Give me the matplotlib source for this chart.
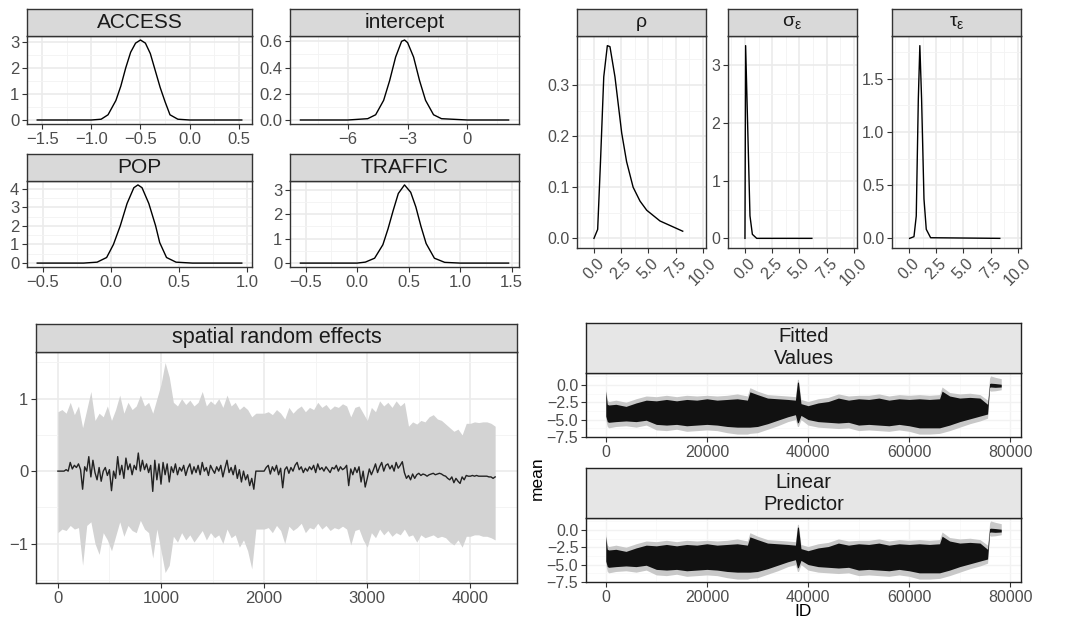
import numpy as np
import matplotlib
matplotlib.use('Agg')
import matplotlib.pyplot as plt
from matplotlib.ticker import AutoMinorLocator

plt.rcParams['font.family'] = ['Liberation Sans', 'DejaVu Sans']
plt.rcParams['mathtext.fontset'] = 'custom'
plt.rcParams['mathtext.rm'] = 'Liberation Sans'
plt.rcParams['axes.unicode_minus'] = True

# ---- fixed effect posterior densities ----
access_x = [-1.55, -1.0, -0.9, -0.83, -0.75, -0.7, -0.65, -0.6, -0.55, -0.5, -0.45, -0.4, -0.35, -0.3, -0.25, -0.2, -0.12, 0.0, 0.53]
access_y = [0.0, 0.0, 0.03, 0.2, 0.75, 1.3, 2.0, 2.6, 2.95, 3.07, 2.95, 2.55, 1.9, 1.25, 0.7, 0.2, 0.03, 0.0, 0.0]

icpt_x = [-8.37, -6.0, -5.0, -4.6, -4.2, -3.9, -3.6, -3.3, -3.15, -3.0, -2.7, -2.4, -2.1, -1.7, -1.3, 0.0, 2.06]
icpt_y = [0.0, 0.0, 0.01, 0.04, 0.15, 0.3, 0.48, 0.6, 0.61, 0.59, 0.48, 0.3, 0.15, 0.04, 0.01, 0.0, 0.0]

pop_x = [-0.54, -0.2, -0.1, -0.03, 0.02, 0.07, 0.12, 0.17, 0.2, 0.23, 0.28, 0.33, 0.36, 0.41, 0.48, 0.6, 0.963]
pop_y = [0.0, 0.0, 0.05, 0.3, 1.0, 2.0, 3.2, 4.05, 4.2, 4.05, 3.2, 2.0, 1.1, 0.3, 0.05, 0.0, 0.0]

traffic_x = [-0.55, 0.0, 0.08, 0.17, 0.25, 0.3, 0.35, 0.4, 0.46, 0.52, 0.57, 0.62, 0.67, 0.75, 0.85, 1.0, 1.47]
traffic_y = [0.0, 0.0, 0.04, 0.2, 0.75, 1.4, 2.15, 2.85, 3.2, 2.9, 2.3, 1.5, 0.8, 0.2, 0.03, 0.0, 0.0]

# ---- hyperparameter densities ----
rho_x = [0.0, 0.34, 0.6, 0.9, 1.23, 1.47, 1.93, 2.55, 3.0, 3.6, 4.23, 4.85, 6.07, 8.16]
rho_y = [0.0, 0.0175, 0.15, 0.316, 0.377, 0.375, 0.316, 0.206, 0.15, 0.10, 0.073, 0.055, 0.034, 0.014]

sig_x = [0.0, 0.06, 0.46, 0.68, 1.08, 6.15]
sig_y = [0.0, 3.34, 0.39, 0.07, 0.0, 0.0]

tau_x = [0.06, 0.46, 0.67, 0.86, 1.0, 1.16, 1.38, 1.59, 1.99, 8.35]
tau_y = [0.0, 0.016, 0.21, 1.31, 1.81, 1.31, 0.37, 0.085, 0.006, 0.0]

# ---- spatial random effects: posterior mean ----
sp_id = np.arange(0, 4241, 20)
sp_mean = [0.0, 0.0, 0.0, 0.0, 0.02, 0.0, 0.12, 0.03, 0.08, 0.05,
           0.1, 0.02, -0.25, 0.06, 0.0, 0.2, -0.08, 0.15, -0.02, -0.12,
           0.05, -0.14, 0.0, 0.05, -0.06, 0.02, -0.27, 0.0, -0.1, 0.2,
           -0.05, 0.08, -0.1, 0.18, 0.02, 0.1, -0.05, 0.08, 0.02, 0.25,
           0.0, 0.15, 0.02, 0.1, -0.02, 0.08, -0.28, 0.15, -0.12, 0.1,
           -0.18, 0.12, -0.05, 0.1, -0.15, 0.06, -0.02, 0.1, -0.05, 0.05,
           0.0, 0.08, -0.06, 0.04, 0.1, -0.04, 0.06, -0.02, 0.08, -0.05,
           0.12, 0.0, 0.05, -0.06, 0.08, 0.02, -0.03, 0.06, 0.0, 0.08,
           -0.08, 0.04, 0.15, -0.02, 0.05, -0.05, 0.08, -0.1, 0.02, -0.15,
           0.0, -0.12, -0.05, -0.2, -0.1, -0.25, 0.0, 0.0, 0.0, 0.0,
           0.0, 0.05, 0.08, -0.04, 0.06, 0.0, 0.08, -0.05, 0.04, -0.23,
           0.02, 0.06, -0.03, 0.05, 0.0, 0.08, 0.12, 0.02, 0.06, -0.02,
           0.04, 0.0, 0.06, 0.02, 0.08, -0.02, 0.1, 0.02, 0.05, 0.0,
           0.06, 0.02, -0.02, 0.05, 0.03, 0.08, 0.0, 0.06, 0.02, 0.04,
           0.08, -0.2, 0.03, -0.05, 0.05, -0.02, 0.06, -0.15, 0.0, -0.22,
           -0.1, 0.03, -0.05, 0.02, 0.1, -0.02, 0.06, 0.12, 0.0, 0.08,
           0.1, 0.03, 0.08, 0.0, 0.12, 0.04, 0.08, 0.13, -0.02, -0.1,
           -0.06, -0.12, -0.04, -0.1, -0.05, -0.03, -0.06, -0.04, -0.05, -0.07,
           -0.05, -0.04, -0.03, -0.05, -0.04, -0.03, -0.04, -0.06, -0.07, -0.1,
           -0.12, -0.08, -0.16, -0.1, -0.14, -0.17, -0.08, -0.12, -0.06, -0.07,
           -0.07, -0.06, -0.07, -0.06, -0.07, -0.07, -0.07, -0.07, -0.07, -0.08,
           -0.08, -0.1, -0.08]

# ---- spatial random effects: 95% band ----
band_id = np.arange(0, 4241, 40)
sp_upper = [0.82, 0.85, 0.8, 0.95, 0.78, 0.9, 0.6, 0.85, 1.1, 0.7, 0.8, 0.75, 0.9, 0.7, 0.85, 1.05,
            0.8, 0.95, 0.85, 0.9, 1.05, 0.9, 0.95, 0.8, 1.0, 1.2, 1.5, 1.3, 0.95, 0.9, 1.0, 0.92,
            0.98, 0.9, 0.95, 1.1, 0.9, 0.97, 0.92, 1.0, 0.88, 1.05, 0.9, 0.95, 0.85, 0.9, 0.85, 0.75,
            0.8, 0.8, 0.8, 0.82, 0.78, 0.85, 0.8, 0.72, 0.88, 0.8, 0.86, 0.9, 0.82, 0.88, 0.85, 0.95,
            0.88, 0.92, 0.85, 0.9, 0.88, 0.93, 0.9, 0.75, 0.88, 0.9, 0.8, 0.7, 0.88, 0.82, 0.97, 0.9,
            0.95, 0.88, 0.97, 0.9, 0.95, 0.62, 0.68, 0.65, 0.7, 0.68, 0.75, 0.78, 0.72, 0.7, 0.65, 0.6,
            0.55, 0.58, 0.5, 0.66, 0.66, 0.68, 0.67, 0.68, 0.68, 0.66, 0.62]
sp_lower = [-0.85, -0.8, -0.82, -0.75, -0.8, -0.78, -1.3, -0.75, -0.7, -1.0, -1.15, -0.85, -0.95, -1.1, -0.9, -0.7,
            -0.9, -0.75, -0.82, -0.85, -0.68, -0.8, -0.85, -1.2, -0.8, -1.1, -1.4, -1.3, -0.9, -0.98, -0.85, -0.95,
            -0.88, -0.98, -0.9, -0.82, -0.95, -0.85, -0.92, -0.88, -1.0, -0.8, -0.92, -0.88, -1.05, -0.95, -1.1, -1.35,
            -0.8, -0.8, -0.8, -0.78, -0.85, -0.75, -0.82, -1.0, -0.76, -0.82, -0.78, -0.72, -0.85, -0.78, -0.8, -0.72,
            -0.8, -0.75, -0.82, -0.78, -0.8, -0.76, -0.8, -1.02, -0.82, -0.8, -0.95, -1.05, -0.85, -0.92, -0.8, -0.88,
            -0.82, -0.9, -0.85, -0.88, -0.8, -0.9, -0.88, -0.98, -0.88, -0.92, -0.9, -0.88, -0.92, -0.9, -0.92, -0.98,
            -1.02, -0.95, -1.05, -0.9, -0.9, -0.88, -0.88, -0.9, -0.9, -0.92, -0.95]

# ---- fitted values / linear predictor (envelope of mean and band) ----
fit_id = [0, 300, 600, 2000, 4000, 6000, 8000, 10000, 12000, 14000, 16000, 18000, 20000, 22000, 24000, 26000,
          28000, 28500, 30000, 32000, 34000, 36000, 37500, 37900, 38100, 38600, 40000, 42000, 44000, 46000, 48000,
          50000, 52000, 54000, 56000, 58000, 60000, 62000, 64000, 66000, 66500, 68000, 70000, 72000, 74000, 75500,
          75900, 76100, 77000, 78200]
mean_hi = [-0.9, -2.8, -2.9, -2.8, -3.1, -2.6, -2.2, -2.3, -2.1, -2.3, -2.1, -2.2, -2.0, -2.2, -2.1, -2.0,
           -2.2, -1.0, -1.4, -1.9, -2.0, -2.1, -2.2, 0.4, 0.4, -2.7, -3.0, -2.6, -2.4, -1.9, -2.2,
           -2.0, -2.1, -1.9, -2.2, -2.0, -2.1, -2.0, -2.1, -2.0, -0.9, -1.6, -1.9, -1.8, -1.9, -2.8,
           0.2, 0.25, 0.2, 0.1]
mean_lo = [-4.5, -5.3, -5.4, -5.3, -5.2, -5.3, -5.1, -5.7, -5.8, -5.7, -5.9, -5.8, -5.7, -5.8, -6.0, -6.1,
           -6.1, -6.1, -6.0, -5.6, -5.1, -4.6, -4.3, -5.5, -5.4, -4.4, -5.0, -5.3, -5.4, -5.5, -5.4,
           -5.8, -5.7, -5.8, -5.9, -5.7, -5.9, -6.2, -6.2, -6.2, -6.1, -5.8, -5.3, -4.9, -4.5, -4.2,
           -0.35, -0.3, -0.35, -0.3]
band_hi = [-0.6, -2.2, -2.4, -2.2, -2.5, -2.0, -1.6, -1.7, -1.5, -1.7, -1.5, -1.6, -1.5, -1.6, -1.5, -1.3,
           -1.6, -0.4, -0.9, -1.4, -1.5, -1.6, -1.7, 0.8, 0.8, -2.1, -2.4, -2.0, -1.8, -1.3, -1.6,
           -1.5, -1.5, -1.3, -1.6, -1.4, -1.5, -1.4, -1.5, -1.4, -0.3, -1.1, -1.3, -1.2, -1.4, -2.2,
           1.0, 1.3, 1.1, 0.9]
band_lo = [-5.0, -6.0, -6.2, -6.0, -5.9, -6.1, -5.8, -6.5, -6.6, -6.4, -6.7, -6.6, -6.5, -6.6, -6.9, -7.1,
           -7.1, -7.0, -6.9, -6.4, -5.9, -5.3, -5.0, -6.0, -6.0, -5.0, -5.8, -6.1, -6.2, -6.3, -6.2,
           -6.6, -6.5, -6.6, -6.7, -6.5, -6.7, -7.1, -7.1, -7.0, -6.9, -6.6, -6.1, -5.6, -5.2, -4.8,
           -0.8, -0.9, -0.85, -0.7]

W, H = 1080, 622
fig = plt.figure(figsize=(W / 100, H / 100), dpi=100)


def px_axes(x0, x1, y0, y1):
    return fig.add_axes([x0 / W, 1 - y1 / H, (x1 - x0) / W, (y1 - y0) / H])


def style(ax, edge='#333333', lsize=12):
    for s in ax.spines.values():
        s.set_color(edge)
        s.set_linewidth(1.0)
    ax.xaxis.set_minor_locator(AutoMinorLocator(2))
    ax.yaxis.set_minor_locator(AutoMinorLocator(2))
    ax.grid(which='major', color='#EBEBEB', lw=1.2)
    ax.grid(which='minor', color='#F3F3F3', lw=0.6)
    ax.set_axisbelow(True)
    ax.tick_params(which='major', length=3.5, width=0.8, color='#333333',
                   labelcolor='#4D4D4D', labelsize=lsize, pad=2)
    ax.tick_params(which='minor', length=0)


def strip(x0, x1, y0, y1, label, size, face='#D9D9D9', edge='#333333'):
    s = px_axes(x0, x1, y0, y1)
    s.set_xticks([])
    s.set_yticks([])
    s.set_facecolor(face)
    for sp in s.spines.values():
        sp.set_color(edge)
        sp.set_linewidth(1.0)
    s.text(0.5, 0.5, label, ha='center', va='center', fontsize=size,
           color='#1A1A1A', transform=s.transAxes, linespacing=1.2)
    return s


# top-left: fixed effects
fixed = [
    ('ACCESS', access_x, access_y, 27, 252, 36, 124, [-1.5, -1.0, -0.5, 0.0, 0.5], [0, 1, 2, 3]),
    ('intercept', icpt_x, icpt_y, 290, 519, 36, 124, [-6, -3, 0], [0.0, 0.2, 0.4, 0.6]),
    ('POP', pop_x, pop_y, 27, 252, 181, 267, [-0.5, 0.0, 0.5, 1.0], [0, 1, 2, 3, 4]),
    ('TRAFFIC', traffic_x, traffic_y, 290, 519, 181, 267, [-0.5, 0.0, 0.5, 1.0, 1.5], [0, 1, 2, 3]),
]
for name, xs, ys, x0, x1, y0, y1, xt, yt in fixed:
    ax = px_axes(x0, x1, y0, y1)
    ax.plot(xs, ys, color='black', lw=1.0)
    ax.set_xticks(xt)
    ax.set_yticks(yt)
    if name == 'intercept':
        ax.set_yticklabels(['0.0', '0.2', '0.4', '0.6'])
    style(ax)
    strip(x0, x1, y0 - 27, y0, name, 15)

# top-right: hyperparameters
hyper = [
    ('ρ', rho_x, rho_y, 577, 706, [0.0, 0.1, 0.2, 0.3], ['0.0', '0.1', '0.2', '0.3']),
    (r'$\mathrm{σ_{ε}}$', sig_x, sig_y, 728, 857, [0, 1, 2, 3], ['0', '1', '2', '3']),
    (r'$\mathrm{τ_{ε}}$', tau_x, tau_y, 892, 1021, [0.0, 0.5, 1.0, 1.5], ['0.0', '0.5', '1.0', '1.5']),
]
for name, xs, ys, x0, x1, yt, ytl in hyper:
    ax = px_axes(x0, x1, 36, 248)
    ax.plot(xs, ys, color='black', lw=1.0)
    ax.set_xlim(-1.56, 10.3)
    ax.set_xticks([0, 2.5, 5, 7.5, 10])
    ax.set_xticklabels(['0.0', '2.5', '5.0', '7.5', '10.0'], rotation=45, ha='center')
    ax.set_yticks(yt)
    ax.set_yticklabels(ytl)
    style(ax, lsize=11.5)
    strip(x0, x1, 9, 36, name, 14)

# bottom-left: spatial random effects
ax = px_axes(36, 517, 352, 583)
ax.fill_between(band_id, sp_lower, sp_upper, color='#D3D3D3', lw=0)
ax.plot(sp_id, sp_mean, color='#222222', lw=1.0)
ax.set_xticks([0, 1000, 2000, 3000, 4000])
ax.set_yticks([-1, 0, 1])
style(ax)
strip(36, 517, 324, 352, 'spatial random effects', 15.5)

# bottom-right: fitted values and linear predictor
for name, y0, y1 in [('Fitted\nValues', 373, 437), ('Linear\nPredictor', 518, 582)]:
    ax = px_axes(586, 1021, y0, y1)
    ax.fill_between(fit_id, band_lo, band_hi, color='#C8C8C8', lw=0)
    ax.fill_between(fit_id, mean_lo, mean_hi, color='#111111', lw=0)
    ax.set_xticks([0, 20000, 40000, 60000, 80000])
    ax.set_yticks([0.0, -2.5, -5.0, -7.5])
    ax.set_yticklabels(['0.0', '−2.5', '−5.0', '−7.5'])
    style(ax, edge='#222222', lsize=11.5)
    ax.grid(which='major', color='#F2F2F2', lw=1.0)
    ax.grid(which='minor', color='#F7F7F7', lw=0.5)
    strip(586, 1021, y0 - 50, y0, name, 14.5, face='#E6E6E6', edge='#222222')

fig.text(537 / W, 1 - 478 / H, 'mean', rotation=90, ha='center', va='center', fontsize=12.5, color='black')
fig.text(803 / W, 1 - 612 / H, 'ID', ha='center', va='center', fontsize=12.5, color='black')

fig.savefig('out.png', dpi=100)
